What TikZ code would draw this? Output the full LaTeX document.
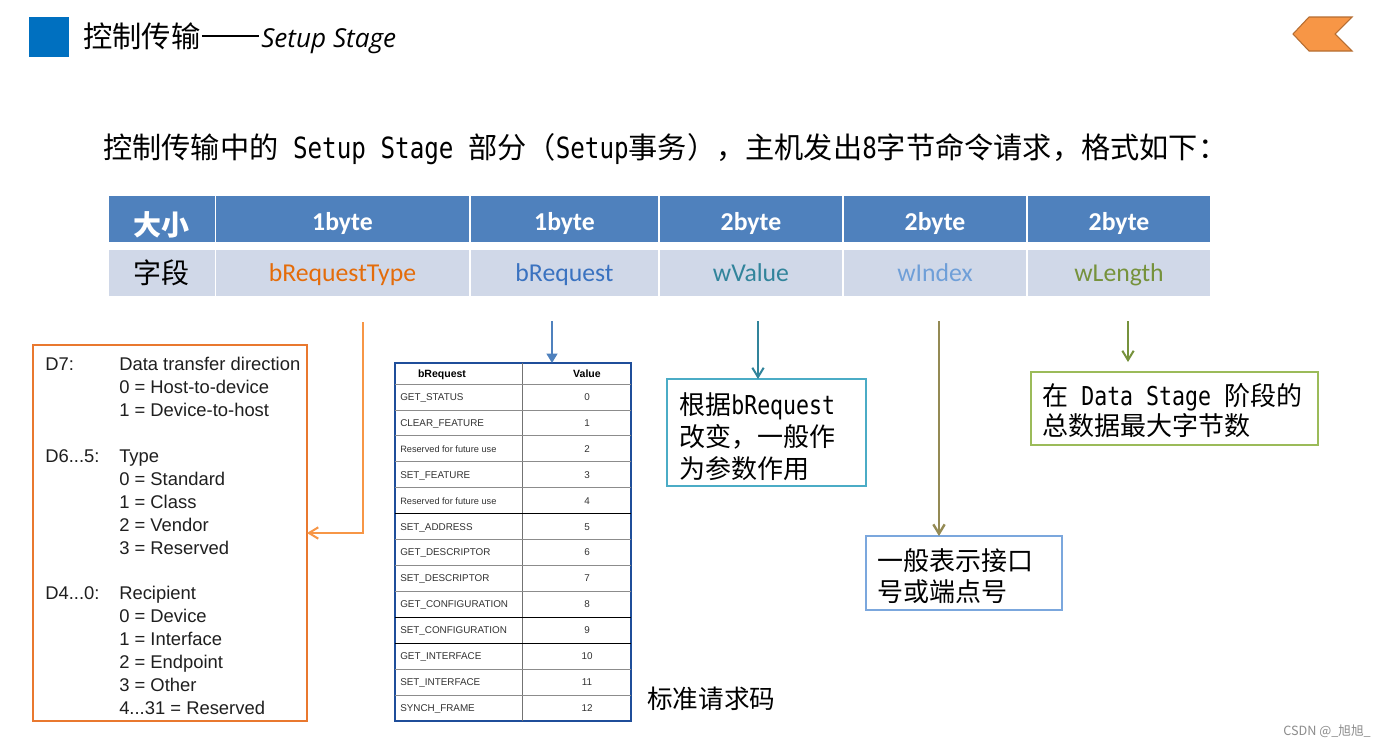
\documentclass[tikz,border=0pt]{standalone}
\usepackage{fontspec}
\setmainfont{Liberation Sans}
\newfontfamily\cjk{Noto Sans CJK SC}
\newfontfamily\hw[FakeStretch=0.83]{DejaVu Sans Mono}
\newfontfamily\calib{Carlito}
\newfontfamily\osans{Open Sans}
\usetikzlibrary{arrows.meta,fit}
\definecolor{sqblue}{HTML}{0070C0}
\definecolor{chevfill}{HTML}{F79646}
\definecolor{chevdraw}{HTML}{B66D31}
\definecolor{hdrblue}{HTML}{4F81BD}
\definecolor{rowgray}{HTML}{D0D8E8}
\definecolor{cOrange}{HTML}{E46C0A}
\definecolor{cBlue}{HTML}{3A72C0}
\definecolor{cTeal}{HTML}{31849B}
\definecolor{cLBlue}{HTML}{6F9FD8}
\definecolor{cOlive}{HTML}{76923C}
\definecolor{arOrange}{HTML}{F79646}
\definecolor{arKhaki}{HTML}{948A54}
\definecolor{boxOrange}{HTML}{E9782F}
\definecolor{boxTeal}{HTML}{4BACC6}
\definecolor{boxBlue}{HTML}{7BA7DD}
\definecolor{boxGreen}{HTML}{9BBB59}
\definecolor{tabBlue}{HTML}{1F4E9A}
\definecolor{txtgray}{HTML}{333333}
\begin{document}
\begin{tikzpicture}[x=0.75pt,y=-0.75pt,
  fitbox/.style={inner sep=0pt, outer sep=0pt},
  hcell/.style={fitbox, fill=hdrblue, draw=white, line width=1.2pt},
  rcell/.style={fitbox, fill=rowgray, draw=white, line width=1.2pt},
  hbyte/.style={anchor=base, inner sep=0pt, text=white, font=\calib\bfseries\fontsize{19.3pt}{22pt}\selectfont},
  rfield/.style={anchor=base, inner sep=0pt, font=\calib\fontsize{19.3pt}{22pt}\selectfont},
  hcjk/.style={anchor=base, inner sep=0pt, font=\cjk\fontsize{21pt}{24pt}\selectfont},
  boxtxt/.style={anchor=base west, inner sep=0pt, font=\cjk\fontsize{19.5pt}{23pt}\selectfont},
  ltxt/.style={anchor=base west, inner sep=0pt, text=black!88, font=\fontsize{13.8pt}{16pt}\selectfont},
  ttxt/.style={anchor=base west, inner sep=0pt, text=txtgray, font=\fontsize{7.4pt}{9pt}\selectfont},
  tval/.style={anchor=base, inner sep=0pt, text=txtgray, font=\fontsize{7.4pt}{9pt}\selectfont},
  thdr/.style={anchor=base, inner sep=0pt, text=black, font=\bfseries\fontsize{7.9pt}{9pt}\selectfont},
  barb/.style={-{Straight Barb[length=7pt,width=8.5pt]}, line width=1.5pt},
]
\useasboundingbox (0,0) rectangle (1390,747);
\fill[white] (0,0) rectangle (1390,747);

% title
\fill[sqblue] (29,17) rectangle (69,57);
\node[anchor=base west, inner sep=0pt] (title) at (83,47)
  {{\cjk\fontsize{22pt}{26pt}\selectfont 控制传输}\kern1pt\rule[7.6pt]{43pt}{1.1pt}\kern1.5pt{\osans\itshape\fontsize{19.6pt}{22pt}\selectfont Setup Stage}};
\filldraw[fill=chevfill, draw=chevdraw, line width=0.8pt]
  (1293,34) -- (1309,17) -- (1352,17) -- (1335,34) -- (1352,51) -- (1309,51) -- cycle;

% subtitle
\node[anchor=base west, inner sep=0pt, font=\fontsize{21.9pt}{26pt}\selectfont] (sub) at (103,158)
  {{\cjk 控制传输中的}{\hw\ Setup Stage\ }{\cjk 部分（}{\hw Setup}{\cjk 事务），主机发出}{\hw 8}{\cjk 字节命令请求，格式如下：}};

% setup packet table
\node[hcell, fit={(108,195) (215.3,242.7)}] (h0) {};
\node[hcell, fit={(215.3,195) (470,242.7)}] (h1) {};
\node[hcell, fit={(470,195) (659,242.7)}] (h2) {};
\node[hcell, fit={(659,195) (843,242.7)}] (h3) {};
\node[hcell, fit={(843,195) (1027,242.7)}] (h4) {};
\node[hcell, fit={(1027,195) (1211,242.7)}] (h5) {};
\node[rcell, fit={(108,249) (215.3,296.7)}] (r0) {};
\node[rcell, fit={(215.3,249) (470,296.7)}] (r1) {};
\node[rcell, fit={(470,249) (659,296.7)}] (r2) {};
\node[rcell, fit={(659,249) (843,296.7)}] (r3) {};
\node[rcell, fit={(843,249) (1027,296.7)}] (r4) {};
\node[rcell, fit={(1027,249) (1211,296.7)}] (r5) {};

\node[hcjk, text=white, font=\cjk\bfseries\fontsize{21pt}{24pt}\selectfont] (t0) at (161,235) {大小};
\node[hbyte] (t1) at (342.5,230) {1byte};
\node[hbyte] (t2) at (564.5,230) {1byte};
\node[hbyte] (t3) at (751,230) {2byte};
\node[hbyte] (t4) at (935,230) {2byte};
\node[hbyte] (t5) at (1119,230) {2byte};
\node[hcjk, text=black] (f0) at (161,283.6) {字段};
\node[rfield, text=cOrange] (f1) at (342.5,281) {bRequestType};
\node[rfield, text=cBlue] (f2) at (564.5,281) {bRequest};
\node[rfield, text=cTeal] (f3) at (751,281) {wValue};
\node[rfield, text=cLBlue] (f4) at (935,281) {wIndex};
\node[rfield, text=cOlive] (f5) at (1119,281) {wLength};

% left box (bmRequestType)
\node[fitbox, draw=boxOrange, line width=1pt, fit={(33,345) (307,721)}] (lbox) {};
\node[ltxt] (d1) at (45,370.6) {D7:};
\node[ltxt] (d5) at ({45},{370.6+22.93*4}) {D6...5:};
\node[ltxt] (d11) at ({45},{370.6+22.93*10}) {D4...0:};
\foreach \i/\t in {1/{Data transfer direction},2/{0 = Host-to-device},3/{1 = Device-to-host},
  5/{Type},6/{0 = Standard},7/{1 = Class},8/{2 = Vendor},9/{3 = Reserved},
  11/{Recipient},12/{0 = Device},13/{1 = Interface},14/{2 = Endpoint},15/{3 = Other},16/{4...31 = Reserved}}
  \node[ltxt] (v\i) at ({119},{370.6+22.93*(\i-1)}) {\t};

% bRequest table
\node[fitbox, draw=tabBlue, line width=1.1pt, fit={(395,363) (631,721)}] (rtab) {};
\draw[black!55, line width=0.6pt] (522,363) -- (522,721);
\foreach \k in {0,1,2,3,4,6,7,8,11,12}
  \draw[black!45, line width=0.6pt] (395,{384+25.92*\k}) -- (631,{384+25.92*\k});
\foreach \k in {5,9,10}
  \draw[black, line width=0.7pt] (395,{384+25.92*\k}) -- (631,{384+25.92*\k});
\node[thdr] (rh1) at (442,377) {bRequest};
\node[thdr] (rh2) at (587,377) {Value};
\foreach \k/\n/\v in {0/GET\_STATUS/0,1/CLEAR\_FEATURE/1,2/{\fontsize{6.9pt}{8pt}\selectfont Reserved for future use}/2,
  3/SET\_FEATURE/3,4/{\fontsize{6.9pt}{8pt}\selectfont Reserved for future use}/4,5/SET\_ADDRESS/5,
  6/GET\_DESCRIPTOR/6,7/SET\_DESCRIPTOR/7,8/GET\_CONFIGURATION/8,9/SET\_CONFIGURATION/9,
  10/GET\_INTERFACE/10,11/SET\_INTERFACE/11,12/SYNCH\_FRAME/12}{
  \node[ttxt] (rn\k) at (400,{384+25.92*(\k+0.5)+3.5}) {\n};
  \node[tval] (rv\k) at (587,{384+25.92*(\k+0.5)+3.5}) {\v};
}
\node[boxtxt, font=\cjk\fontsize{19.2pt}{23pt}\selectfont] (std) at (647,708) {标准请求码};

% right boxes
\node[fitbox, draw=boxTeal, line width=1pt, fit={(667,379) (866,486)}] (tbox) {};
\node[boxtxt] (tb1) at (679,414) {根据{\hw bRequest}};
\node[boxtxt] (tb2) at (679,446) {改变，一般作};
\node[boxtxt] (tb3) at (679,478) {为参数作用};

\node[fitbox, draw=boxBlue, line width=1pt, fit={(866,536) (1062,610)}] (bbox) {};
\node[boxtxt] (bb1) at (877,570) {一般表示接口};
\node[boxtxt] (bb2) at (877,601) {号或端点号};

\node[fitbox, draw=boxGreen, line width=1pt, fit={(1031,372) (1318,445)}] (gbox) {};
\node[boxtxt] (gb1) at (1042,405) {在{\hw\ Data Stage\ }阶段的};
\node[boxtxt] (gb2) at (1042,435) {总数据最大字节数};

% connectors
\coordinate (a1) at (362.5,322);
\coordinate (a2) at (552,321);
\coordinate (a3) at (758,321);
\coordinate (a4) at (939,321);
\coordinate (a5) at (1128,321);
\coordinate (e5) at (1128,362);
\draw[barb, arOrange] (a1) |- (lbox.east);
\draw[-{Triangle[length=7pt,width=8pt]}, line width=1.5pt, hdrblue] (a2) -- (rtab.north -| a2);
\draw[barb, cTeal] (a3) -- (tbox.north -| a3);
\draw[barb, arKhaki, line width=1.8pt] (a4) -- (bbox.north -| a4);
\draw[barb, cOlive] (a5) -- (e5);

% watermark
\node[anchor=base west, inner sep=0pt, text=black!45, font=\cjk\fontsize{9.5pt}{11pt}\selectfont] (wm) at (1283,735) {CSDN @\_旭旭\_};
\end{tikzpicture}
\end{document}
